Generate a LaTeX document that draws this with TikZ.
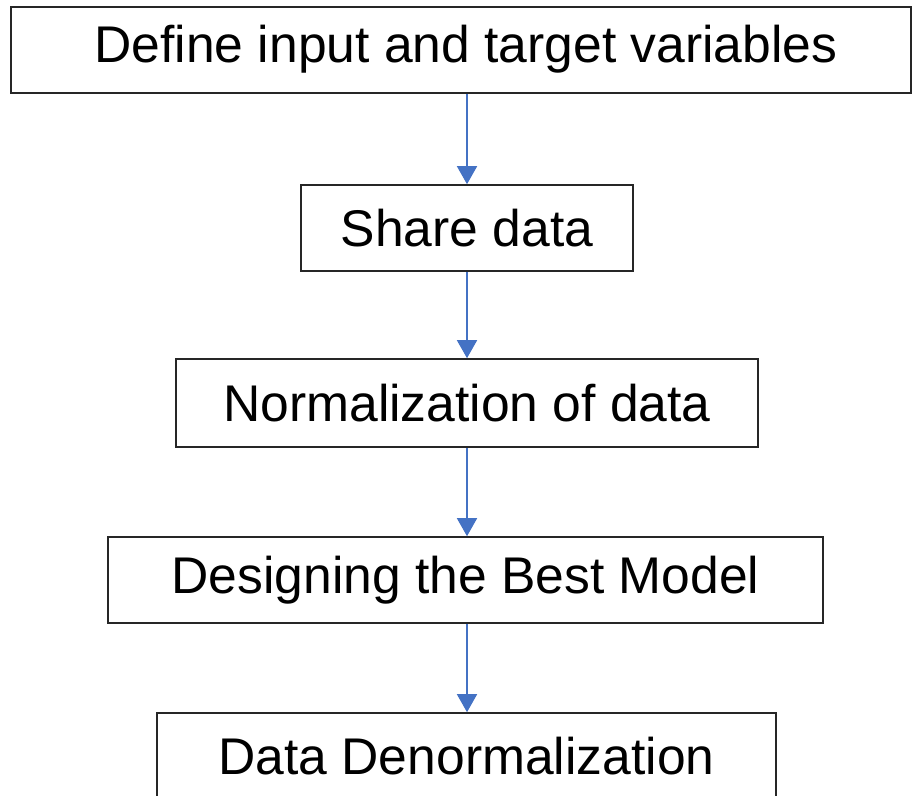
\documentclass[tikz,border=0pt]{standalone}
\usepackage{fontspec}
\setmainfont{Liberation Sans}
\usetikzlibrary{arrows.meta}
\definecolor{arrowblue}{HTML}{4472C4}
\definecolor{boxline}{HTML}{262626}
\tikzset{
  stepfont/.style={font=\fontsize{51.6}{60}\selectfont, text=black},
  stepbox/.style={draw=boxline, line width=1.6pt, fill=white, inner sep=0pt, stepfont},
  flow/.style={draw=arrowblue, line width=1.6pt, -{Triangle[width=20pt,length=18pt]}}
}
\begin{document}
\begin{tikzpicture}[x=1pt,y=-1pt]
\clip (0,0) rectangle (912,795);
\useasboundingbox (0,0) rectangle (912,795);
\node[stepbox, minimum width=900pt, minimum height=86pt,
  label={[stepfont, xshift=5pt, yshift=1pt]center:Define input and target variables}] (b1) at (461,50) {};
\node[stepbox, minimum width=332pt, minimum height=86pt] (b2) at (467,228) {Share data};
\node[stepbox, minimum width=582pt, minimum height=88pt] (b3) at (467,403) {Normalization of data};
\node[stepbox, minimum width=715pt, minimum height=86pt] (b4) at (465.5,580) {Designing the Best Model};
\node[stepbox, minimum width=619pt, minimum height=86pt] (b5) at (466.5,756) {Data Denormalization};
\draw[flow] (b1.south -| b2.north) -- (b2.north);
\draw[flow] (b2.south) -- (b3.north);
\draw[flow] (b3.south) -- (b4.north -| b3.south);
\draw[flow] (b4.south -| b3.south) -- (b5.north -| b3.south);
\end{tikzpicture}
\end{document}
